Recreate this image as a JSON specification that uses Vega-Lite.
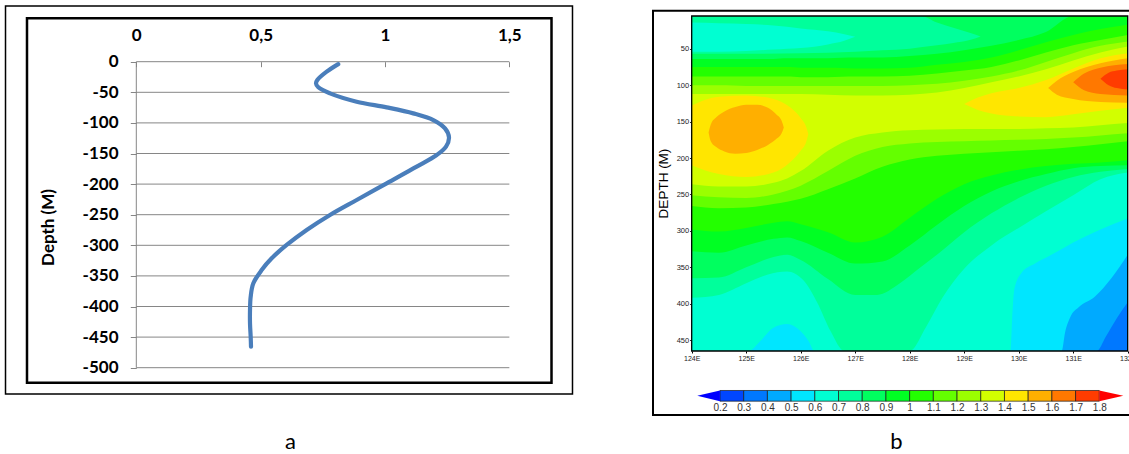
{
  "$schema": "https://vega.github.io/schema/vega-lite/v6.json",
  "width": 1129,
  "height": 454,
  "autosize": "none",
  "padding": 0,
  "background": "white",
  "config": {
    "view": {"stroke": null},
    "axis": {"labelFlush": false, "labelOverlap": false, "grid": false, "domain": false},
    "font": "Liberation Sans"
  },
  "datasets": {
    "line": [
      {"i": 1, "val": 0.812, "dep": -4},
      {"i": 2, "val": 0.7655, "dep": -16.3},
      {"i": 3, "val": 0.7279, "dep": -29.9},
      {"i": 4, "val": 0.7226, "dep": -35.3},
      {"i": 5, "val": 0.7319, "dep": -41.9},
      {"i": 6, "val": 0.7789, "dep": -51.7},
      {"i": 7, "val": 0.886, "dep": -65.3},
      {"i": 8, "val": 1.0067, "dep": -74.6},
      {"i": 9, "val": 1.1139, "dep": -84.4},
      {"i": 10, "val": 1.1943, "dep": -95.3},
      {"i": 11, "val": 1.2413, "dep": -108.9},
      {"i": 12, "val": 1.2573, "dep": -123.6},
      {"i": 13, "val": 1.2453, "dep": -138.8},
      {"i": 14, "val": 1.2078, "dep": -152.5},
      {"i": 15, "val": 1.1274, "dep": -171.5},
      {"i": 16, "val": 1.0067, "dep": -198.7},
      {"i": 17, "val": 0.8861, "dep": -226},
      {"i": 18, "val": 0.7789, "dep": -250.5},
      {"i": 19, "val": 0.685, "dep": -275},
      {"i": 20, "val": 0.6046, "dep": -299.5},
      {"i": 21, "val": 0.5443, "dep": -321.3},
      {"i": 22, "val": 0.5041, "dep": -340.4},
      {"i": 23, "val": 0.4706, "dep": -362.1},
      {"i": 24, "val": 0.4599, "dep": -383.9},
      {"i": 25, "val": 0.4572, "dep": -405.7},
      {"i": 26, "val": 0.4572, "dep": -427.5},
      {"i": 27, "val": 0.4599, "dep": -449.3},
      {"i": 28, "val": 0.4612, "dep": -465.6}
    ],
    "grid": [
      {"g": 0}, {"g": -50}, {"g": -100}, {"g": -150}, {"g": -200}, {"g": -250},
      {"g": -300}, {"g": -350}, {"g": -400}, {"g": -450}, {"g": -500}
    ],
    "cbar": [
      {"lo": 0.2, "hi": 0.3, "v": 0.25}, {"lo": 0.3, "hi": 0.4, "v": 0.35},
      {"lo": 0.4, "hi": 0.5, "v": 0.45}, {"lo": 0.5, "hi": 0.6, "v": 0.55},
      {"lo": 0.6, "hi": 0.7, "v": 0.65}, {"lo": 0.7, "hi": 0.8, "v": 0.75},
      {"lo": 0.8, "hi": 0.9, "v": 0.85}, {"lo": 0.9, "hi": 1.0, "v": 0.95},
      {"lo": 1.0, "hi": 1.1, "v": 1.05}, {"lo": 1.1, "hi": 1.2, "v": 1.15},
      {"lo": 1.2, "hi": 1.3, "v": 1.25}, {"lo": 1.3, "hi": 1.4, "v": 1.35},
      {"lo": 1.4, "hi": 1.5, "v": 1.45}, {"lo": 1.5, "hi": 1.6, "v": 1.55},
      {"lo": 1.6, "hi": 1.7, "v": 1.65}, {"lo": 1.7, "hi": 1.8, "v": 1.75}
    ],
    "contour": [
      {"s": "c3", "v": 0.35, "x": 124, "t": 5, "b": 465},
      {"s": "c3", "v": 0.35, "x": 132, "t": 5, "b": 465},

      {"s": "c4", "v": 0.45, "x": 124, "t": 5, "b": 465},
      {"s": "c4", "v": 0.45, "x": 131.43, "t": 5, "b": 465},
      {"s": "c4", "v": 0.45, "x": 131.6, "t": 5, "b": 445},
      {"s": "c4", "v": 0.45, "x": 131.8, "t": 5, "b": 420},
      {"s": "c4", "v": 0.45, "x": 132, "t": 5, "b": 398},

      {"s": "c5", "v": 0.55, "x": 124, "t": 5, "b": 465},
      {"s": "c5", "v": 0.55, "x": 130.79, "t": 5, "b": 465},
      {"s": "c5", "v": 0.55, "x": 130.85, "t": 5, "b": 440},
      {"s": "c5", "v": 0.55, "x": 130.95, "t": 5, "b": 418},
      {"s": "c5", "v": 0.55, "x": 131.1, "t": 5, "b": 405},
      {"s": "c5", "v": 0.55, "x": 131.4, "t": 5, "b": 390},
      {"s": "c5", "v": 0.55, "x": 131.7, "t": 5, "b": 365},
      {"s": "c5", "v": 0.55, "x": 132, "t": 5, "b": 333},

      {"s": "c6", "v": 0.65, "x": 124, "t": 5, "b": 465},
      {"s": "c6", "v": 0.65, "x": 125.05, "t": 5, "b": 465},
      {"s": "c6", "v": 0.65, "x": 125.25, "t": 5, "b": 452},
      {"s": "c6", "v": 0.65, "x": 125.5, "t": 5, "b": 433},
      {"s": "c6", "v": 0.65, "x": 125.75, "t": 5, "b": 428},
      {"s": "c6", "v": 0.65, "x": 126, "t": 5, "b": 438},
      {"s": "c6", "v": 0.65, "x": 126.15, "t": 5, "b": 452},
      {"s": "c6", "v": 0.65, "x": 126.25, "t": 5, "b": 465},
      {"s": "c6", "v": 0.65, "x": 129.85, "t": 5, "b": 465},
      {"s": "c6", "v": 0.65, "x": 129.88, "t": 5, "b": 420},
      {"s": "c6", "v": 0.65, "x": 129.92, "t": 5, "b": 380},
      {"s": "c6", "v": 0.65, "x": 130.05, "t": 5, "b": 358},
      {"s": "c6", "v": 0.65, "x": 130.3, "t": 5, "b": 345},
      {"s": "c6", "v": 0.65, "x": 130.6, "t": 5, "b": 333},
      {"s": "c6", "v": 0.65, "x": 131, "t": 5, "b": 316},
      {"s": "c6", "v": 0.65, "x": 131.5, "t": 5, "b": 298},
      {"s": "c6", "v": 0.65, "x": 132, "t": 5, "b": 283},

      {"s": "c7", "v": 0.75, "x": 124, "t": 5, "b": 392},
      {"s": "c7", "v": 0.75, "x": 124.5, "t": 5, "b": 388},
      {"s": "c7", "v": 0.75, "x": 125, "t": 5, "b": 372},
      {"s": "c7", "v": 0.75, "x": 125.4, "t": 5, "b": 360},
      {"s": "c7", "v": 0.75, "x": 125.75, "t": 5, "b": 356},
      {"s": "c7", "v": 0.75, "x": 126.05, "t": 5, "b": 368},
      {"s": "c7", "v": 0.75, "x": 126.3, "t": 5, "b": 398},
      {"s": "c7", "v": 0.75, "x": 126.55, "t": 5, "b": 438},
      {"s": "c7", "v": 0.75, "x": 126.8, "t": 5, "b": 465},
      {"s": "c7", "v": 0.75, "x": 128, "t": 5, "b": 465},
      {"s": "c7", "v": 0.75, "x": 128.3, "t": 5, "b": 432},
      {"s": "c7", "v": 0.75, "x": 128.6, "t": 5, "b": 392},
      {"s": "c7", "v": 0.75, "x": 129, "t": 5, "b": 352},
      {"s": "c7", "v": 0.75, "x": 129.5, "t": 5, "b": 320},
      {"s": "c7", "v": 0.75, "x": 130, "t": 5, "b": 296},
      {"s": "c7", "v": 0.75, "x": 130.5, "t": 5, "b": 273},
      {"s": "c7", "v": 0.75, "x": 131, "t": 5, "b": 251},
      {"s": "c7", "v": 0.75, "x": 131.5, "t": 5, "b": 229},
      {"s": "c7", "v": 0.75, "x": 132, "t": 5, "b": 220},

      {"s": "c8", "v": 0.85, "x": 124, "t": 5, "b": 365},
      {"s": "c8", "v": 0.85, "x": 124.5, "t": 5, "b": 364},
      {"s": "c8", "v": 0.85, "x": 125, "t": 5, "b": 350},
      {"s": "c8", "v": 0.85, "x": 125.5, "t": 5, "b": 336},
      {"s": "c8", "v": 0.85, "x": 125.75, "t": 5, "b": 333},
      {"s": "c8", "v": 0.85, "x": 126, "t": 5, "b": 340},
      {"s": "c8", "v": 0.85, "x": 126.5, "t": 5, "b": 366},
      {"s": "c8", "v": 0.85, "x": 127, "t": 5, "b": 388},
      {"s": "c8", "v": 0.85, "x": 127.4, "t": 5, "b": 388},
      {"s": "c8", "v": 0.85, "x": 127.82, "t": 5, "b": 372},
      {"s": "c8", "v": 0.85, "x": 128.2, "t": 5, "b": 350},
      {"s": "c8", "v": 0.85, "x": 128.5, "t": 5, "b": 333},
      {"s": "c8", "v": 0.85, "x": 129, "t": 5, "b": 302},
      {"s": "c8", "v": 0.85, "x": 129.5, "t": 5, "b": 276},
      {"s": "c8", "v": 0.85, "x": 130, "t": 5, "b": 255},
      {"s": "c8", "v": 0.85, "x": 130.5, "t": 5, "b": 238},
      {"s": "c8", "v": 0.85, "x": 131, "t": 5, "b": 226},
      {"s": "c8", "v": 0.85, "x": 131.5, "t": 5, "b": 219},
      {"s": "c8", "v": 0.85, "x": 132, "t": 5, "b": 215},

      {"s": "c9", "v": 0.95, "x": 124, "t": 64, "b": 328},
      {"s": "c9", "v": 0.95, "x": 124.5, "t": 64, "b": 330},
      {"s": "c9", "v": 0.95, "x": 125, "t": 64, "b": 320},
      {"s": "c9", "v": 0.95, "x": 125.5, "t": 64, "b": 311},
      {"s": "c9", "v": 0.95, "x": 125.75, "t": 63, "b": 309},
      {"s": "c9", "v": 0.95, "x": 126, "t": 63, "b": 314},
      {"s": "c9", "v": 0.95, "x": 126.5, "t": 63, "b": 330},
      {"s": "c9", "v": 0.95, "x": 127, "t": 62, "b": 345},
      {"s": "c9", "v": 0.95, "x": 127.5, "t": 62, "b": 342},
      {"s": "c9", "v": 0.95, "x": 128, "t": 60, "b": 320},
      {"s": "c9", "v": 0.95, "x": 128.5, "t": 57, "b": 292},
      {"s": "c9", "v": 0.95, "x": 129, "t": 52, "b": 266},
      {"s": "c9", "v": 0.95, "x": 129.5, "t": 46, "b": 246},
      {"s": "c9", "v": 0.95, "x": 130, "t": 38, "b": 232},
      {"s": "c9", "v": 0.95, "x": 130.5, "t": 27, "b": 222},
      {"s": "c9", "v": 0.95, "x": 131, "t": 5, "b": 214},
      {"s": "c9", "v": 0.95, "x": 131.5, "t": 5, "b": 211},
      {"s": "c9", "v": 0.95, "x": 132, "t": 5, "b": 210},

      {"s": "c10", "v": 1.05, "x": 124, "t": 75, "b": 298},
      {"s": "c10", "v": 1.05, "x": 124.5, "t": 75, "b": 301},
      {"s": "c10", "v": 1.05, "x": 125, "t": 75, "b": 296},
      {"s": "c10", "v": 1.05, "x": 125.5, "t": 75, "b": 289},
      {"s": "c10", "v": 1.05, "x": 125.75, "t": 75, "b": 287},
      {"s": "c10", "v": 1.05, "x": 126, "t": 76, "b": 291},
      {"s": "c10", "v": 1.05, "x": 126.5, "t": 76, "b": 302},
      {"s": "c10", "v": 1.05, "x": 127, "t": 77, "b": 316},
      {"s": "c10", "v": 1.05, "x": 127.5, "t": 77, "b": 308},
      {"s": "c10", "v": 1.05, "x": 128, "t": 76, "b": 282},
      {"s": "c10", "v": 1.05, "x": 128.5, "t": 72, "b": 256},
      {"s": "c10", "v": 1.05, "x": 129, "t": 68, "b": 236},
      {"s": "c10", "v": 1.05, "x": 129.5, "t": 62, "b": 224},
      {"s": "c10", "v": 1.05, "x": 130, "t": 52, "b": 216},
      {"s": "c10", "v": 1.05, "x": 130.5, "t": 41, "b": 211},
      {"s": "c10", "v": 1.05, "x": 131, "t": 31, "b": 208},
      {"s": "c10", "v": 1.05, "x": 131.5, "t": 23, "b": 206},
      {"s": "c10", "v": 1.05, "x": 132, "t": 17, "b": 203},

      {"s": "c11", "v": 1.15, "x": 124, "t": 88, "b": 266},
      {"s": "c11", "v": 1.15, "x": 124.5, "t": 88, "b": 269},
      {"s": "c11", "v": 1.15, "x": 125, "t": 88, "b": 268},
      {"s": "c11", "v": 1.15, "x": 125.5, "t": 88, "b": 263},
      {"s": "c11", "v": 1.15, "x": 125.75, "t": 88, "b": 260},
      {"s": "c11", "v": 1.15, "x": 126, "t": 89, "b": 256},
      {"s": "c11", "v": 1.15, "x": 126.5, "t": 89, "b": 243},
      {"s": "c11", "v": 1.15, "x": 127, "t": 88, "b": 228},
      {"s": "c11", "v": 1.15, "x": 127.5, "t": 88, "b": 212},
      {"s": "c11", "v": 1.15, "x": 128, "t": 87, "b": 202},
      {"s": "c11", "v": 1.15, "x": 128.5, "t": 84, "b": 197},
      {"s": "c11", "v": 1.15, "x": 129, "t": 80, "b": 194},
      {"s": "c11", "v": 1.15, "x": 129.5, "t": 75, "b": 192},
      {"s": "c11", "v": 1.15, "x": 130, "t": 66, "b": 190},
      {"s": "c11", "v": 1.15, "x": 130.5, "t": 55, "b": 188},
      {"s": "c11", "v": 1.15, "x": 131, "t": 45, "b": 185},
      {"s": "c11", "v": 1.15, "x": 131.5, "t": 38, "b": 181},
      {"s": "c11", "v": 1.15, "x": 132, "t": 31, "b": 177},

      {"s": "c12", "v": 1.25, "x": 124, "t": 100, "b": 251},
      {"s": "c12", "v": 1.25, "x": 124.5, "t": 100, "b": 254},
      {"s": "c12", "v": 1.25, "x": 125, "t": 101, "b": 255},
      {"s": "c12", "v": 1.25, "x": 125.5, "t": 101, "b": 250},
      {"s": "c12", "v": 1.25, "x": 125.75, "t": 101, "b": 245},
      {"s": "c12", "v": 1.25, "x": 126, "t": 101, "b": 238},
      {"s": "c12", "v": 1.25, "x": 126.5, "t": 101, "b": 218},
      {"s": "c12", "v": 1.25, "x": 127, "t": 101, "b": 197},
      {"s": "c12", "v": 1.25, "x": 127.5, "t": 101, "b": 185},
      {"s": "c12", "v": 1.25, "x": 128, "t": 100, "b": 180},
      {"s": "c12", "v": 1.25, "x": 128.5, "t": 98, "b": 178},
      {"s": "c12", "v": 1.25, "x": 129, "t": 94, "b": 177},
      {"s": "c12", "v": 1.25, "x": 129.5, "t": 88, "b": 176},
      {"s": "c12", "v": 1.25, "x": 130, "t": 80, "b": 175},
      {"s": "c12", "v": 1.25, "x": 130.5, "t": 68, "b": 174},
      {"s": "c12", "v": 1.25, "x": 131, "t": 56, "b": 172},
      {"s": "c12", "v": 1.25, "x": 131.5, "t": 46, "b": 169},
      {"s": "c12", "v": 1.25, "x": 132, "t": 40, "b": 166},

      {"s": "c13", "v": 1.35, "x": 124, "t": 112, "b": 236},
      {"s": "c13", "v": 1.35, "x": 124.5, "t": 112, "b": 239},
      {"s": "c13", "v": 1.35, "x": 125, "t": 112, "b": 239},
      {"s": "c13", "v": 1.35, "x": 125.5, "t": 112, "b": 234},
      {"s": "c13", "v": 1.35, "x": 125.75, "t": 112, "b": 228},
      {"s": "c13", "v": 1.35, "x": 126, "t": 112, "b": 218},
      {"s": "c13", "v": 1.35, "x": 126.5, "t": 113, "b": 190},
      {"s": "c13", "v": 1.35, "x": 127, "t": 114, "b": 172},
      {"s": "c13", "v": 1.35, "x": 127.5, "t": 114, "b": 165},
      {"s": "c13", "v": 1.35, "x": 128, "t": 113, "b": 162},
      {"s": "c13", "v": 1.35, "x": 128.5, "t": 110, "b": 161},
      {"s": "c13", "v": 1.35, "x": 129, "t": 104, "b": 160},
      {"s": "c13", "v": 1.35, "x": 129.5, "t": 96, "b": 160},
      {"s": "c13", "v": 1.35, "x": 130, "t": 88, "b": 160},
      {"s": "c13", "v": 1.35, "x": 130.5, "t": 78, "b": 159},
      {"s": "c13", "v": 1.35, "x": 131, "t": 66, "b": 158},
      {"s": "c13", "v": 1.35, "x": 131.5, "t": 55, "b": 155},
      {"s": "c13", "v": 1.35, "x": 132, "t": 47, "b": 152},

      {"s": "c14a", "v": 1.45, "x": 124, "t": 128, "b": 210},
      {"s": "c14a", "v": 1.45, "x": 124.25, "t": 120, "b": 217},
      {"s": "c14a", "v": 1.45, "x": 124.5, "t": 116, "b": 222},
      {"s": "c14a", "v": 1.45, "x": 125, "t": 114, "b": 226},
      {"s": "c14a", "v": 1.45, "x": 125.5, "t": 119, "b": 220},
      {"s": "c14a", "v": 1.45, "x": 125.8, "t": 130, "b": 206},
      {"s": "c14a", "v": 1.45, "x": 126, "t": 145, "b": 190},
      {"s": "c14a", "v": 1.45, "x": 126.1, "t": 157, "b": 178},
      {"s": "c14a", "v": 1.45, "x": 126.14, "t": 167, "b": 167},

      {"s": "c14b", "v": 1.45, "x": 129.0, "t": 126, "b": 126},
      {"s": "c14b", "v": 1.45, "x": 129.25, "t": 117, "b": 134},
      {"s": "c14b", "v": 1.45, "x": 129.5, "t": 111, "b": 139},
      {"s": "c14b", "v": 1.45, "x": 130, "t": 104, "b": 143},
      {"s": "c14b", "v": 1.45, "x": 130.5, "t": 93, "b": 144},
      {"s": "c14b", "v": 1.45, "x": 131, "t": 77, "b": 140},
      {"s": "c14b", "v": 1.45, "x": 131.5, "t": 63, "b": 135},
      {"s": "c14b", "v": 1.45, "x": 132, "t": 56, "b": 131},

      {"s": "c15a", "v": 1.55, "x": 124.31, "t": 165, "b": 165},
      {"s": "c15a", "v": 1.55, "x": 124.35, "t": 154, "b": 177},
      {"s": "c15a", "v": 1.55, "x": 124.45, "t": 144, "b": 185},
      {"s": "c15a", "v": 1.55, "x": 124.6, "t": 136, "b": 191},
      {"s": "c15a", "v": 1.55, "x": 124.8, "t": 130, "b": 194},
      {"s": "c15a", "v": 1.55, "x": 125, "t": 127, "b": 193},
      {"s": "c15a", "v": 1.55, "x": 125.2, "t": 127, "b": 189},
      {"s": "c15a", "v": 1.55, "x": 125.4, "t": 131, "b": 182},
      {"s": "c15a", "v": 1.55, "x": 125.55, "t": 140, "b": 174},
      {"s": "c15a", "v": 1.55, "x": 125.65, "t": 149, "b": 166},
      {"s": "c15a", "v": 1.55, "x": 125.69, "t": 158, "b": 158},

      {"s": "c15b", "v": 1.55, "x": 130.54, "t": 104, "b": 104},
      {"s": "c15b", "v": 1.55, "x": 130.7, "t": 94, "b": 113},
      {"s": "c15b", "v": 1.55, "x": 131, "t": 82, "b": 119},
      {"s": "c15b", "v": 1.55, "x": 131.5, "t": 70, "b": 123},
      {"s": "c15b", "v": 1.55, "x": 132, "t": 63, "b": 124},

      {"s": "c16", "v": 1.65, "x": 131, "t": 96, "b": 96},
      {"s": "c16", "v": 1.65, "x": 131.2, "t": 84, "b": 107},
      {"s": "c16", "v": 1.65, "x": 131.5, "t": 76, "b": 112},
      {"s": "c16", "v": 1.65, "x": 132, "t": 71, "b": 114},

      {"s": "c17", "v": 1.75, "x": 131.5, "t": 91, "b": 91},
      {"s": "c17", "v": 1.75, "x": 131.65, "t": 83, "b": 100},
      {"s": "c17", "v": 1.75, "x": 131.8, "t": 80, "b": 104},
      {"s": "c17", "v": 1.75, "x": 132, "t": 78, "b": 106},

      {"s": "r7", "v": 0.75, "x": 124, "t": 5, "b": 57},
      {"s": "r7", "v": 0.75, "x": 125, "t": 5, "b": 57},
      {"s": "r7", "v": 0.75, "x": 126, "t": 5, "b": 56},
      {"s": "r7", "v": 0.75, "x": 127, "t": 5, "b": 54},
      {"s": "r7", "v": 0.75, "x": 127.5, "t": 5, "b": 52},
      {"s": "r7", "v": 0.75, "x": 128, "t": 5, "b": 50},
      {"s": "r7", "v": 0.75, "x": 128.2, "t": 5, "b": 48},
      {"s": "r7", "v": 0.75, "x": 128.5, "t": 14, "b": 45},
      {"s": "r7", "v": 0.75, "x": 128.8, "t": 21, "b": 42},
      {"s": "r7", "v": 0.75, "x": 129.1, "t": 28, "b": 38},
      {"s": "r7", "v": 0.75, "x": 129.3, "t": 33, "b": 33},

      {"s": "r6", "v": 0.65, "x": 124, "t": 14, "b": 54},
      {"s": "r6", "v": 0.65, "x": 124.5, "t": 15, "b": 54},
      {"s": "r6", "v": 0.65, "x": 125, "t": 16, "b": 53},
      {"s": "r6", "v": 0.65, "x": 125.5, "t": 18, "b": 51},
      {"s": "r6", "v": 0.65, "x": 126, "t": 22, "b": 49},
      {"s": "r6", "v": 0.65, "x": 126.5, "t": 26, "b": 44},
      {"s": "r6", "v": 0.65, "x": 126.8, "t": 30, "b": 39},
      {"s": "r6", "v": 0.65, "x": 127, "t": 33.5, "b": 33.5}
    ]
  },
  "layer": [
    {
      "layer": [
        {
          "data": {"name": "grid"},
          "mark": {"type": "rule", "color": "#868686", "strokeWidth": 1},
          "encoding": {
            "x": {"datum": 0, "type": "quantitative"},
            "x2": {"datum": 1.5},
            "y": {"field": "g", "type": "quantitative"}
          }
        },
        {
          "data": {"values": [{}]},
          "mark": {"type": "rule", "color": "#868686", "strokeWidth": 1},
          "encoding": {
            "x": {"datum": 0, "type": "quantitative"},
            "y": {"datum": 0, "type": "quantitative"},
            "y2": {"datum": -500}
          }
        },
        {
          "data": {"name": "line"},
          "mark": {"type": "line", "interpolate": "catmull-rom", "color": "#4a7ebb", "strokeWidth": 4.2, "strokeCap": "round", "strokeJoin": "round"},
          "encoding": {
            "x": {
              "field": "val", "type": "quantitative",
              "scale": {"domain": [-0.54805, 3.99156], "nice": false, "zero": false},
              "axis": {
                "orient": "top", "offset": -61.7, "values": [0, 0.5, 1, 1.5],
                "labelExpr": "replace(toString(datum.value), '.', ',')",
                "ticks": true, "tickSize": -5, "tickColor": "#868686", "tickWidth": 1,
                "labelPadding": 21.8, "labelFont": "Lato", "labelFontSize": 17, "labelFontWeight": "bold", "labelColor": "#000",
                "title": "a", "titleX": 290, "titleY": 379.3, "titleAlign": "center", "titleBaseline": "middle",
                "titleFont": "Lato", "titleFontSize": 22, "titleFontWeight": "normal", "titleColor": "#000"
              }
            },
            "y": {
              "field": "dep", "type": "quantitative",
              "scale": {"domain": [-641.013, 100.817], "nice": false, "zero": false},
              "axis": {
                "orient": "left", "offset": -136.3,
                "values": [0, -50, -100, -150, -200, -250, -300, -350, -400, -450, -500],
                "labelExpr": "toString(datum.value)",
                "ticks": true, "tickSize": 6, "tickColor": "#868686", "tickWidth": 1,
                "labelPadding": 12.3, "labelFont": "Lato", "labelFontSize": 17, "labelFontWeight": "bold", "labelColor": "#000",
                "title": "Depth (M)", "titleX": -88.3, "titleY": 227, "titleAngle": -90, "titleAlign": "center", "titleBaseline": "middle",
                "titleFont": "Lato", "titleFontSize": 17, "titleFontWeight": "bold", "titleColor": "#000"
              }
            },
            "order": {"field": "i", "type": "quantitative"}
          }
        },
        {
          "data": {"values": [{}]},
          "mark": {"type": "rect", "filled": false, "color": "#000", "strokeWidth": 1.5},
          "encoding": {
            "x": {"datum": -0.5259, "type": "quantitative"},
            "x2": {"datum": 1.7539},
            "y": {"datum": 91.01, "type": "quantitative"},
            "y2": {"datum": -542.97}
          }
        },
        {
          "data": {"values": [{}]},
          "mark": {"type": "rect", "filled": false, "color": "#000", "strokeWidth": 2.5},
          "encoding": {
            "x": {"datum": -0.4395, "type": "quantitative"},
            "x2": {"datum": 1.6695},
            "y": {"datum": 70.92, "type": "quantitative"},
            "y2": {"datum": -524.51}
          }
        }
      ]
    },
    {
      "layer": [
        {
          "data": {"name": "contour"},
          "encoding": {
            "x": {
              "field": "x", "type": "quantitative",
              "scale": {"domain": [111.3083, 132.0239], "nice": false, "zero": false},
              "axis": {
                "orient": "bottom", "offset": -103, "values": [124, 125, 126, 127, 128, 129, 130, 131, 132],
                "labelExpr": "datum.value + 'E'",
                "ticks": true, "tickSize": 2, "tickColor": "#000", "tickWidth": 1,
                "labelPadding": 1.5, "labelFont": "Liberation Sans", "labelFontSize": 7, "labelColor": "#222",
                "title": null
              }
            },
            "y": {
              "field": "t", "type": "quantitative", "stack": null,
              "scale": {"domain": [-16.97, 606.43], "reverse": true, "nice": false, "zero": false},
              "axis": {
                "orient": "left", "offset": -691.7, "values": [50, 100, 150, 200, 250, 300, 350, 400, 450],
                "ticks": true, "tickSize": 2, "tickColor": "#000", "tickWidth": 1,
                "labelPadding": 1, "labelFont": "Liberation Sans", "labelFontSize": 7.5, "labelColor": "#222",
                "title": "DEPTH (M)", "titleX": -28.7, "titleY": 183, "titleAngle": -90, "titleAlign": "center", "titleBaseline": "middle",
                "titleFont": "Liberation Sans", "titleFontSize": 13.5, "titleFontWeight": "normal", "titleColor": "#000"
              }
            },
            "y2": {"field": "b"},
            "color": {
              "field": "v", "type": "quantitative",
              "scale": {
                "type": "threshold",
                "domain": [0.2, 0.3, 0.4, 0.5, 0.6, 0.7, 0.8, 0.9, 1.0, 1.1, 1.2, 1.3, 1.4, 1.5, 1.6, 1.7, 1.8],
                "range": ["#0000ff", "#0046ff", "#0078ff", "#00aaff", "#00e6ff", "#00ffd2", "#00ff9b", "#00ff5f", "#00ff23", "#23ff00", "#64ff00", "#9bff00", "#d2ff00", "#ffe600", "#ffaf00", "#ff7800", "#ff3c00", "#ff0000"]
              },
              "legend": null
            }
          },
          "layer": [
            {"transform": [{"filter": "datum.s === 'c3'"}], "mark": {"type": "area", "interpolate": "monotone"}},
            {"transform": [{"filter": "datum.s === 'c4'"}], "mark": {"type": "area", "interpolate": "monotone"}},
            {"transform": [{"filter": "datum.s === 'c5'"}], "mark": {"type": "area", "interpolate": "monotone"}},
            {"transform": [{"filter": "datum.s === 'c6'"}], "mark": {"type": "area", "interpolate": "monotone"}},
            {"transform": [{"filter": "datum.s === 'c7'"}], "mark": {"type": "area", "interpolate": "monotone"}},
            {"transform": [{"filter": "datum.s === 'c8'"}], "mark": {"type": "area", "interpolate": "monotone"}},
            {"transform": [{"filter": "datum.s === 'c9'"}], "mark": {"type": "area", "interpolate": "monotone"}},
            {"transform": [{"filter": "datum.s === 'c10'"}], "mark": {"type": "area", "interpolate": "monotone"}},
            {"transform": [{"filter": "datum.s === 'c11'"}], "mark": {"type": "area", "interpolate": "monotone"}},
            {"transform": [{"filter": "datum.s === 'c12'"}], "mark": {"type": "area", "interpolate": "monotone"}},
            {"transform": [{"filter": "datum.s === 'c13'"}], "mark": {"type": "area", "interpolate": "monotone"}},
            {"transform": [{"filter": "datum.s === 'c14a'"}], "mark": {"type": "area", "interpolate": "monotone"}},
            {"transform": [{"filter": "datum.s === 'c14b'"}], "mark": {"type": "area", "interpolate": "monotone"}},
            {"transform": [{"filter": "datum.s === 'c15a'"}], "mark": {"type": "area", "interpolate": "monotone"}},
            {"transform": [{"filter": "datum.s === 'c15b'"}], "mark": {"type": "area", "interpolate": "monotone"}},
            {"transform": [{"filter": "datum.s === 'c16'"}], "mark": {"type": "area", "interpolate": "monotone"}},
            {"transform": [{"filter": "datum.s === 'c17'"}], "mark": {"type": "area", "interpolate": "monotone"}},
            {"transform": [{"filter": "datum.s === 'r7'"}], "mark": {"type": "area", "interpolate": "monotone"}},
            {"transform": [{"filter": "datum.s === 'r6'"}], "mark": {"type": "area", "interpolate": "monotone"}}
          ]
        },
        {
          "data": {"values": [{}]},
          "mark": {"type": "rect", "filled": false, "color": "#000", "strokeWidth": 1.3},
          "encoding": {
            "x": {"datum": 124, "type": "quantitative"},
            "x2": {"datum": 132},
            "y": {"datum": 5, "type": "quantitative"},
            "y2": {"datum": 465}
          }
        },
        {
          "data": {"values": [{}]},
          "mark": {"type": "rect", "filled": false, "color": "#000", "strokeWidth": 2},
          "encoding": {
            "x": {"datum": 123.29, "type": "quantitative"},
            "x2": {"datum": 132.1},
            "y": {"datum": -2.28, "type": "quantitative"},
            "y2": {"datum": 552.88}
          }
        }
      ]
    },
    {
      "layer": [
        {
          "data": {"name": "cbar"},
          "mark": {"type": "rect", "stroke": "#1a1a1a", "strokeWidth": 0.7},
          "encoding": {
            "x": {
              "field": "lo", "type": "quantitative",
              "scale": {"domain": [-2.8372, 1.9253], "nice": false, "zero": false},
              "axis": {
                "orient": "bottom", "offset": -52.8,
                "values": [0.2, 0.3, 0.4, 0.5, 0.6, 0.7, 0.8, 0.9, 1, 1.1, 1.2, 1.3, 1.4, 1.5, 1.6, 1.7, 1.8],
                "labelExpr": "toString(datum.value)",
                "ticks": false, "labelPadding": 1.5,
                "labelFont": "Liberation Sans", "labelFontSize": 10, "labelColor": "#333",
                "title": "b", "titleX": 896, "titleY": 40.5, "titleAlign": "center", "titleBaseline": "middle",
                "titleFont": "Lato", "titleFontSize": 22, "titleFontWeight": "normal", "titleColor": "#000"
              }
            },
            "x2": {"field": "hi"},
            "y": {"datum": 0, "type": "quantitative", "scale": {"domain": [-4.9346, 37.4953], "nice": false, "zero": false}, "axis": null},
            "y2": {"datum": 1},
            "color": {
              "field": "v", "type": "quantitative",
              "scale": {
                "type": "threshold",
                "domain": [0.2, 0.3, 0.4, 0.5, 0.6, 0.7, 0.8, 0.9, 1.0, 1.1, 1.2, 1.3, 1.4, 1.5, 1.6, 1.7, 1.8],
                "range": ["#0000ff", "#0046ff", "#0078ff", "#00aaff", "#00e6ff", "#00ffd2", "#00ff9b", "#00ff5f", "#00ff23", "#23ff00", "#64ff00", "#9bff00", "#d2ff00", "#ffe600", "#ffaf00", "#ff7800", "#ff3c00", "#ff0000"]
              },
              "legend": null
            }
          }
        },
        {
          "data": {"values": [{}]},
          "mark": {"type": "point", "filled": true, "shape": "M-1,0L1,-0.47L1,0.47Z", "size": 515, "color": "#0000ff", "opacity": 1, "strokeWidth": 0},
          "encoding": {
            "x": {"datum": 0.152, "type": "quantitative"},
            "y": {"datum": 0.5, "type": "quantitative", "axis": null}
          }
        },
        {
          "data": {"values": [{}]},
          "mark": {"type": "point", "filled": true, "shape": "M1,0L-1,-0.45L-1,0.45Z", "size": 576, "color": "#ff0000", "opacity": 1, "strokeWidth": 0},
          "encoding": {
            "x": {"datum": 1.8506, "type": "quantitative"},
            "y": {"datum": 0.5, "type": "quantitative", "axis": null}
          }
        }
      ]
    }
  ],
  "resolve": {
    "scale": {"x": "independent", "y": "independent"},
    "axis": {"x": "independent", "y": "independent"}
  }
}
